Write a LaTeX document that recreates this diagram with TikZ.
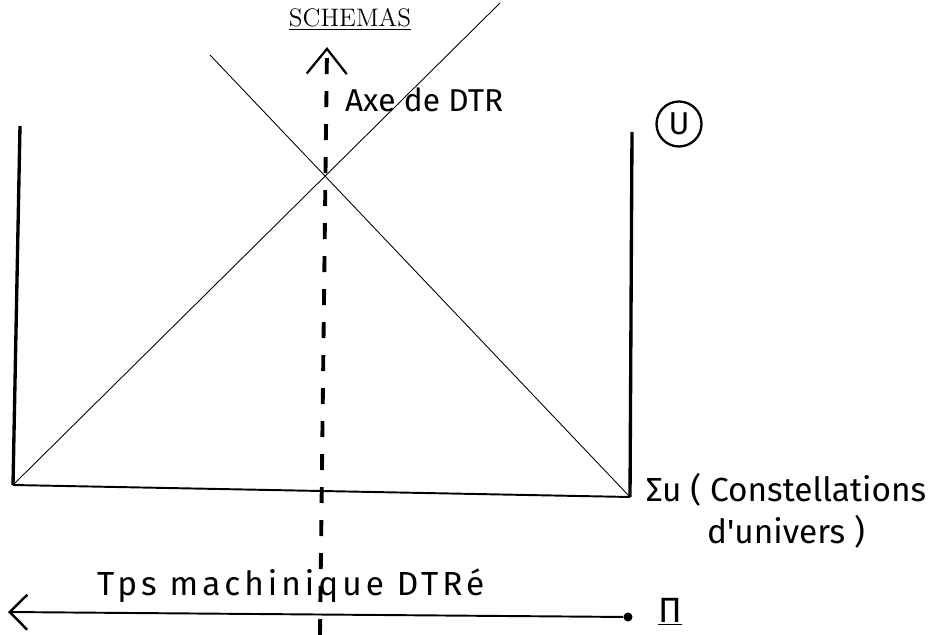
\documentclass[tikz,border=0pt]{standalone}
\usepackage{fontspec}
\newfontfamily\handfont{Fira Sans}
\usetikzlibrary{arrows.meta}

\begin{document}
\begin{tikzpicture}[
  x=0.2mm, y=-0.2mm,
  wall/.style={line width=1.9pt},
  base/.style={line width=1.1pt},
  diag/.style={line width=0.5pt},
  axis/.style={line width=2.2pt, dash pattern=on 3.2mm off 3.4mm,
    -{Straight Barb[length=5mm, width=8mm, line width=1.3pt]}},
  timeline/.style={line width=1.1pt,
    -{Straight Barb[length=3.5mm, width=7mm, line width=1.4pt]}},
  hand/.style={font=\handfont\fontsize{18}{22}\selectfont, inner sep=1pt},
  dot/.style={circle, fill, inner sep=0pt, minimum size=1.8mm}
]
\useasboundingbox (0,0) rectangle (931,635);

%% ── Frame ─────────────────────────────────────────────────────────────────────

\coordinate (tl) at (20,126);
\coordinate (bl) at (13,485);
\coordinate (tr) at (632,132);
\coordinate (br) at (630,497);

% upper ends of the two diagonals (they cross on the axis)
\coordinate (riseend) at (500,3);
\coordinate (fallend) at (210,55);

\draw[wall] (tl) -- (bl);
\draw[wall] (tr) -- (br);
\draw[base] (bl) -- (br);
\draw[diag] (bl) -- (riseend);
\draw[diag] (br) -- (fallend);

%% ── Axis ──────────────────────────────────────────────────────────────────────

\coordinate (axisfoot) at (320,635);
\coordinate (axistop)  at (327,47);
\draw[axis] (axisfoot) -- (axistop);

\node[font=\Large, inner sep=1pt] (schemas) at (350,19) {\underline{SCHEMAS}};
\node[hand, anchor=west] (axelbl) at (343,100) {Axe de DTR};
\node[hand, draw, circle, line width=1.3pt, minimum size=9mm] (ucirc) at (679,124) {U};

\node[hand, align=center, font=\handfont\fontsize{19}{24}\selectfont] (sigma) at (786,511)
  {Σu ( Constellations\\d'univers )};

%% ── Machine time ──────────────────────────────────────────────────────────────

\node[dot] (pstart) at (628,617) {};
\coordinate (tleft) at (8,612);
\draw[timeline] (pstart) -- (tleft);

\node[hand, anchor=base west,
  font=\handfont\fontsize{19}{22}\selectfont\addfontfeature{LetterSpace=12}]
  (tps) at (95,595) {Tps machinique DTRé};
\node[hand, font=\handfont\fontsize{20}{22}\selectfont] (pi) at (670,612) {\underline{Π}};

\end{tikzpicture}
\end{document}
